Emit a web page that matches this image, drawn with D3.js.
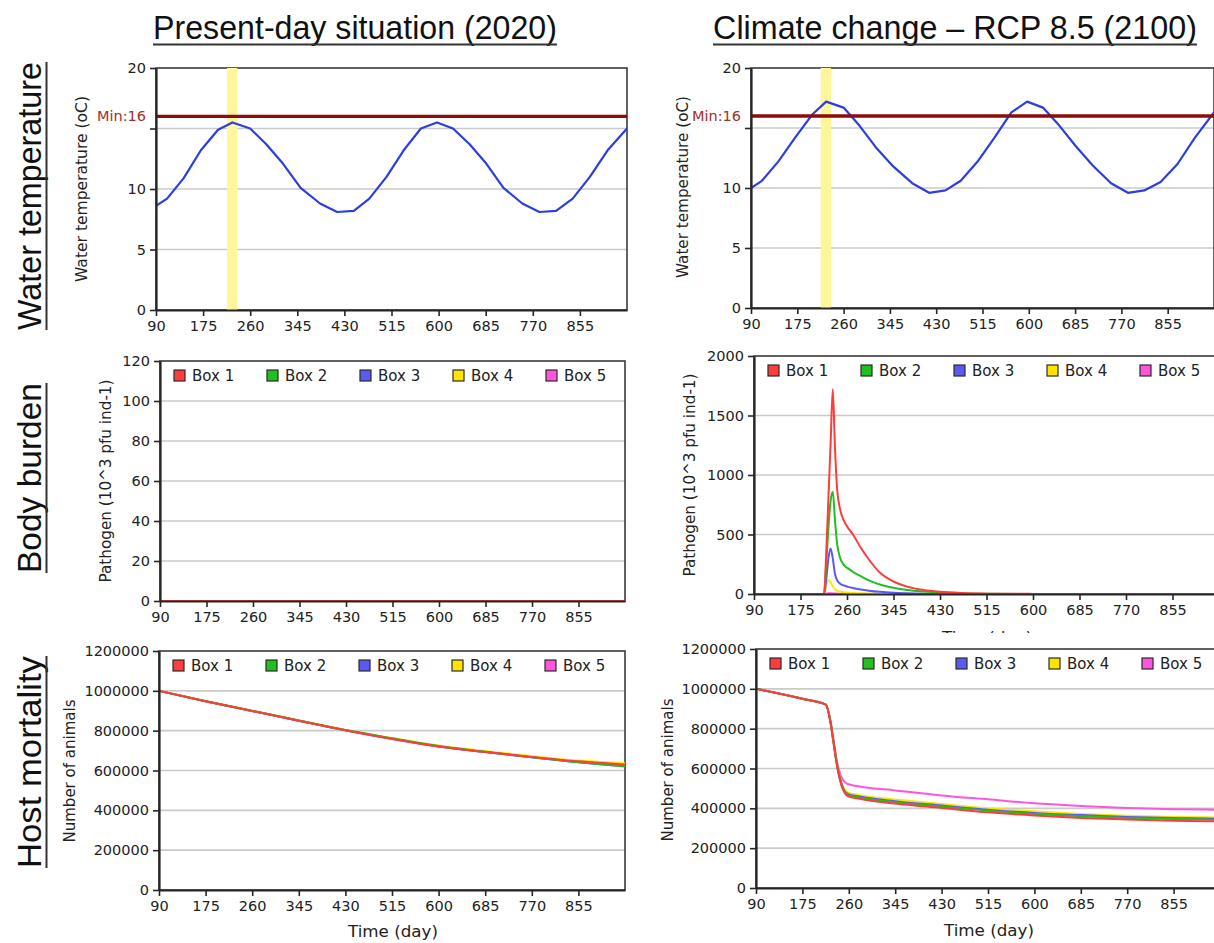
<!DOCTYPE html>
<html>
<head>
<meta charset="utf-8">
<script src="https://cdn.jsdelivr.net/npm/d3@7"></script>
<style>
  body { margin: 0; background: #ffffff; }
  svg { display: block; }
</style>
</head>
<body>
<svg id="fig" width="1214" height="943"></svg>
<script>
// ---------- time axis ----------
const timeDomain = [90, 940];
const timeTicks = [90, 175, 260, 345, 430, 515, 600, 685, 770, 855];

// ---------- water temperature (oC), monthly values ----------
const tempDays = [90,110,140,171,202,228,260,289,319,351,386,417,447,475,506,537,568,597,626,656,686,717,751,782,812,842,873,905,940];
const temp2020 = [8.6,9.2,10.9,13.2,14.9,15.5,15.0,13.7,12.1,10.1,8.8,8.1,8.2,9.2,11.0,13.2,15.0,15.5,15.0,13.7,12.1,10.1,8.8,8.1,8.2,9.2,11.0,13.2,15.0];
const temp2100 = [10.0,10.6,12.2,14.2,16.1,17.2,16.7,15.2,13.4,11.8,10.4,9.6,9.8,10.6,12.2,14.2,16.3,17.2,16.7,15.2,13.5,11.9,10.4,9.6,9.8,10.5,12.0,14.2,16.3];
const tempThreshold = 16;
const highlightWindow = [218, 237];
const tempTicks = [0, 5, 10, 15, 20];

// ---------- boxes ----------
const boxNames = ["Box 1", "Box 2", "Box 3", "Box 4", "Box 5"];
const boxColors = ["#ff3c3c", "#20c020", "#5a5af0", "#ffe400", "#ff55dd"];

// ---------- body burden: pathogen (10^3 pfu ind-1) ----------
const path2020Days = [90, 940];
const path2020Box1 = [0, 0];
const path2020Box2 = [0, 0];
const path2020Box3 = [0, 0];
const path2020Box4 = [0, 0];
const path2020Box5 = [0, 0];
const path2020Ticks = [0, 20, 40, 60, 80, 100, 120];

const path2100Days = [90,218,222,226,230,234,238,242,247,254,262,271,285,300,320,345,370,400,430,470,520,600,700,940];
const path2100Box1 = [0,0,340,800,1260,1720,1230,880,720,620,555,500,390,290,180,105,62,33,18,8,3,1,0,0];
const path2100Box2 = [0,0,250,550,780,860,620,420,310,245,215,185,150,115,80,52,33,20,11,5,2,0,0,0];
const path2100Box3 = [0,0,120,300,383,300,170,115,88,72,60,50,38,28,18,10,6,3,1,0,0,0,0,0];
const path2100Box4 = [0,0,70,118,100,65,40,27,20,15,11,8,6,4,2,1,0,0,0,0,0,0,0,0];
const path2100Box5 = [0,0,3,6,6,5,4,3,2,2,1,1,0,0,0,0,0,0,0,0,0,0,0,0];
const path2100Ticks = [0, 500, 1000, 1500, 2000];

// ---------- host mortality: number of animals ----------
const mort2020Days = [90,175,260,345,430,515,600,685,770,855,940];
const mort2020Box1 = [1000000,948000,899000,850000,802000,758000,720000,693000,668000,646000,630000];
const mort2020Box2 = [1000000,948000,899000,851000,803000,762000,723000,694000,667000,641000,620000];
const mort2020Box3 = [1000000,948000,899000,850000,802000,760000,721000,693000,666000,642000,623000];
const mort2020Box4 = [1000000,949000,900000,851000,804000,763000,726000,698000,672000,650000,636000];
const mort2020Box5 = [1000000,948000,899000,850000,802000,759000,721000,694000,668000,645000,627000];

const mort2100Days = [90,175,218,226,232,238,244,250,258,280,345,430,515,600,685,770,855,940];
const mort2100Box1 = [1000000,950000,921000,840000,730000,620000,540000,490000,462000,448000,424000,402000,380000,364000,352000,344000,338000,335000];
const mort2100Box2 = [1000000,950000,921000,840000,732000,624000,545000,495000,468000,454000,431000,409000,388000,372000,360000,352000,346000,343000];
const mort2100Box3 = [1000000,950000,921000,841000,734000,627000,549000,499000,473000,459000,436000,414000,393000,377000,366000,357000,351000,348000];
const mort2100Box4 = [1000000,950000,921000,842000,737000,632000,555000,506000,480000,466000,444000,422000,400000,385000,372000,363000,357000,354000];
const mort2100Box5 = [1000000,950000,921000,845000,745000,640000,575000,540000,522000,510000,490000,465000,445000,425000,412000,402000,396000,393000];
const mortTicks = [0, 200000, 400000, 600000, 800000, 1000000, 1200000];

// ---------- figure headings ----------
const columnTitles = ["Present-day situation (2020)", "Climate change \u2013 RCP 8.5 (2100)"];
const rowTitles = ["Water temperature", "Body burden", "Host mortality"];

// ---------- drawing ----------
const svg = d3.select("#fig");
const fontMain = "'DejaVu Sans', Verdana, Tahoma, sans-serif";
const fontHead = "'Liberation Sans Narrow', 'Arial Narrow', 'Liberation Sans', Arial, sans-serif";
const defs = svg.append("defs");
let clipCount = 0;

function zipSeries(days, values) {
  return days.map((d, i) => [d, values[i]]);
}

function drawPanel(p) {
  const g = svg.append("g");
  const x = d3.scaleLinear().domain(timeDomain).range([p.x0, p.x1]);
  const y = d3.scaleLinear().domain([0, p.yMax]).range([p.y1, p.y0]);

  // horizontal grid
  g.selectAll("line.grid")
    .data(p.yTicks.filter(v => v > 0 && v < p.yMax))
    .join("line")
    .attr("x1", p.x0).attr("x2", p.x1)
    .attr("y1", d => y(d)).attr("y2", d => y(d))
    .attr("stroke", "#cacaca").attr("stroke-width", 1.6);

  // plot frame
  g.append("rect")
    .attr("x", p.x0).attr("y", p.y0)
    .attr("width", p.x1 - p.x0).attr("height", p.y1 - p.y0)
    .attr("fill", "none").attr("stroke", "#3a3a3a").attr("stroke-width", 1.6);

  const clipId = "plotclip" + (clipCount++);
  defs.append("clipPath").attr("id", clipId)
    .append("rect")
    .attr("x", p.x0).attr("y", p.y0 - 2)
    .attr("width", p.x1 - p.x0).attr("height", p.y1 - p.y0 + 4);
  const plot = g.append("g").attr("clip-path", `url(#${clipId})`);

  if (p.before) p.before(plot, x, y);

  const line = d3.line()
    .x(d => x(d[0])).y(d => y(d[1]))
    .curve(p.smooth ? d3.curveMonotoneX : d3.curveLinear);

  p.series.slice().reverse().forEach(s => {
    plot.append("path")
      .datum(zipSeries(s.days, s.values))
      .attr("d", line)
      .attr("fill", "none")
      .attr("stroke", s.color)
      .attr("stroke-width", s.width || 2)
      .attr("stroke-linejoin", "round");
  });

  if (p.after) p.after(plot, x, y);

  // axes
  const xAxis = g.append("g")
    .attr("transform", `translate(0,${p.y1})`)
    .call(d3.axisBottom(x).tickValues(timeTicks).tickSize(6).tickSizeOuter(0).tickPadding(5));
  const yAxis = g.append("g")
    .attr("transform", `translate(${p.x0},0)`)
    .call(d3.axisLeft(y).tickValues(p.yTicks).tickSize(6).tickSizeOuter(0).tickPadding(4)
      .tickFormat(p.tickFormat || d3.format("d")));
  [xAxis, yAxis].forEach(a => {
    a.select(".domain").attr("stroke", "#262626").attr("stroke-width", 2.2);
    a.selectAll(".tick line").attr("stroke", "#262626").attr("stroke-width", 1.6);
    a.selectAll(".tick text")
      .attr("fill", "#222").style("font-family", fontMain).style("font-size", "14.5px");
  });

  if (p.afterAxes) p.afterAxes(g, x, y);

  // legend
  if (p.legend) {
    const lg = g.append("g");
    boxNames.forEach((name, i) => {
      const lx = p.x0 + 14 + i * 93;
      const ly = p.y0 + 14.5;
      lg.append("rect")
        .attr("x", lx).attr("y", ly - 5.5)
        .attr("width", 11).attr("height", 11)
        .attr("fill", boxColors[i]).attr("stroke", "#2a2a2a").attr("stroke-width", 1.2);
      lg.append("text")
        .attr("x", lx + 18).attr("y", ly + 5.5)
        .attr("fill", "#222")
        .style("font-family", fontMain).style("font-size", "15px")
        .text(name);
    });
  }

  // y-axis title
  g.append("text")
    .attr("transform", `translate(${p.yTitleX},${p.yTitleY}) rotate(-90)`)
    .attr("text-anchor", "middle")
    .attr("dy", "0.35em")
    .attr("fill", "#222")
    .attr("textLength", p.yTitleLen)
    .attr("lengthAdjust", "spacingAndGlyphs")
    .style("font-family", fontMain).style("font-size", "15px")
    .text(p.yTitle);

  // x-axis title
  if (p.xTitle) {
    const t = g.append("text")
      .attr("x", p.xTitle.x).attr("y", p.xTitle.y)
      .attr("text-anchor", "middle")
      .attr("fill", "#222")
      .attr("textLength", 90)
      .attr("lengthAdjust", "spacingAndGlyphs")
      .style("font-family", fontMain).style("font-size", "16.5px")
      .text("Time (day)");
    if (p.xTitle.clipBottom) {
      const cid = "titleclip" + (clipCount++);
      defs.append("clipPath").attr("id", cid)
        .append("rect").attr("x", 0).attr("y", 0).attr("width", 1214).attr("height", p.xTitle.clipBottom);
      t.attr("clip-path", `url(#${cid})`);
    }
  }
  return { x, y };
}

function boxSeries(days, arrays) {
  return arrays.map((values, i) => ({ days, values, color: boxColors[i], width: 2 }));
}

function tempExtras(plot, x, y) {
  plot.append("rect")
    .attr("x", x(highlightWindow[0])).attr("y", y.range()[1])
    .attr("width", x(highlightWindow[1]) - x(highlightWindow[0]))
    .attr("height", y.range()[0] - y.range()[1])
    .attr("fill", "#fff59a");
}
function tempThresholdLine(plot, x, y) {
  plot.append("line")
    .attr("x1", x.range()[0]).attr("x2", x.range()[1])
    .attr("y1", y(tempThreshold)).attr("y2", y(tempThreshold))
    .attr("stroke", "#8c0b0b").attr("stroke-width", 3.4);
}
function tempThresholdLabel(g, x, y) {
  g.append("text")
    .attr("x", x.range()[0] - 10).attr("y", y(tempThreshold))
    .attr("dy", "0.35em")
    .attr("text-anchor", "end")
    .attr("fill", "#a3302c")
    .style("font-family", fontMain).style("font-size", "14.5px")
    .text("Min:" + tempThreshold);
}
const tempFormat = d => (d === 15 ? "" : d);

// water temperature, 2020
drawPanel({
  x0: 156, x1: 627, y0: 68, y1: 310, yMax: 20, yTicks: tempTicks, tickFormat: tempFormat,
  yTitle: "Water temperature (oC)", yTitleX: 82, yTitleY: 189, yTitleLen: 186,
  before: tempExtras, after: tempThresholdLine, afterAxes: tempThresholdLabel,
  series: [{ days: tempDays, values: temp2020, color: "#2b3ee0", width: 2.2 }]
});
// water temperature, 2100
drawPanel({
  x0: 751, x1: 1214, y0: 68, y1: 308, yMax: 20, yTicks: tempTicks, tickFormat: tempFormat,
  yTitle: "Water temperature (oC)", yTitleX: 683, yTitleY: 187, yTitleLen: 182,
  before: tempExtras, after: tempThresholdLine, afterAxes: tempThresholdLabel,
  series: [{ days: tempDays, values: temp2100, color: "#2b3ee0", width: 2.2 }]
});
// body burden, 2020
drawPanel({
  x0: 160, x1: 625, y0: 361, y1: 601, yMax: 120, yTicks: path2020Ticks, legend: true, smooth: true,
  yTitle: "Pathogen (10^3 pfu ind-1)", yTitleX: 106, yTitleY: 481, yTitleLen: 203,
  series: boxSeries(path2020Days, [path2020Box1, path2020Box2, path2020Box3, path2020Box4, path2020Box5])
});
// body burden, 2100
drawPanel({
  x0: 754, x1: 1219, y0: 356, y1: 594, yMax: 2000, yTicks: path2100Ticks, legend: true, smooth: true,
  yTitle: "Pathogen (10^3 pfu ind-1)", yTitleX: 690, yTitleY: 475, yTitleLen: 203,
  xTitle: { x: 987, y: 643, clipBottom: 633 },
  series: boxSeries(path2100Days, [path2100Box1, path2100Box2, path2100Box3, path2100Box4, path2100Box5])
});
// host mortality, 2020
drawPanel({
  x0: 159, x1: 625, y0: 651, y1: 890, yMax: 1200000, yTicks: mortTicks, legend: true, smooth: true,
  yTitle: "Number of animals", yTitleX: 70, yTitleY: 771, yTitleLen: 143,
  xTitle: { x: 393, y: 937 },
  series: boxSeries(mort2020Days, [mort2020Box1, mort2020Box2, mort2020Box3, mort2020Box4, mort2020Box5])
});
// host mortality, 2100
drawPanel({
  x0: 756, x1: 1220, y0: 649, y1: 888, yMax: 1200000, yTicks: mortTicks, legend: true, smooth: true,
  yTitle: "Number of animals", yTitleX: 668, yTitleY: 770, yTitleLen: 143,
  xTitle: { x: 989, y: 936 },
  series: boxSeries(mort2100Days, [mort2100Box1, mort2100Box2, mort2100Box3, mort2100Box4, mort2100Box5])
});

// headings: drawn in a narrow face, squeezed horizontally to the set width
function heading(transform, text, len) {
  const t = svg.append("text")
    .attr("text-anchor", "middle")
    .attr("fill", "#111")
    .style("font-family", fontHead).style("font-size", "34px")
    .text(text);
  const natural = t.node().getComputedTextLength();
  t.attr("transform", `${transform} scale(${len / natural},1)`);
  return t;
}

// column headings
const colHeads = [
  { cx: 355, len: 404 },
  { cx: 955, len: 484 }
];
columnTitles.forEach((t, i) => {
  const h = colHeads[i];
  heading(`translate(${h.cx},39)`, t, h.len);
  svg.append("line")
    .attr("x1", h.cx - h.len / 2).attr("x2", h.cx + h.len / 2)
    .attr("y1", 44.5).attr("y2", 44.5)
    .attr("stroke", "#333").attr("stroke-width", 2);
});

// row headings
const rowHeads = [
  { cy: 196, len: 268 },
  { cy: 478, len: 190 },
  { cy: 762, len: 212 }
];
rowTitles.forEach((t, i) => {
  const h = rowHeads[i];
  heading(`translate(41,${h.cy}) rotate(-90)`, t, h.len);
  svg.append("line")
    .attr("x1", 46.5).attr("x2", 46.5)
    .attr("y1", h.cy - h.len / 2).attr("y2", h.cy + h.len / 2)
    .attr("stroke", "#333").attr("stroke-width", 2);
});
</script>
</body>
</html>
